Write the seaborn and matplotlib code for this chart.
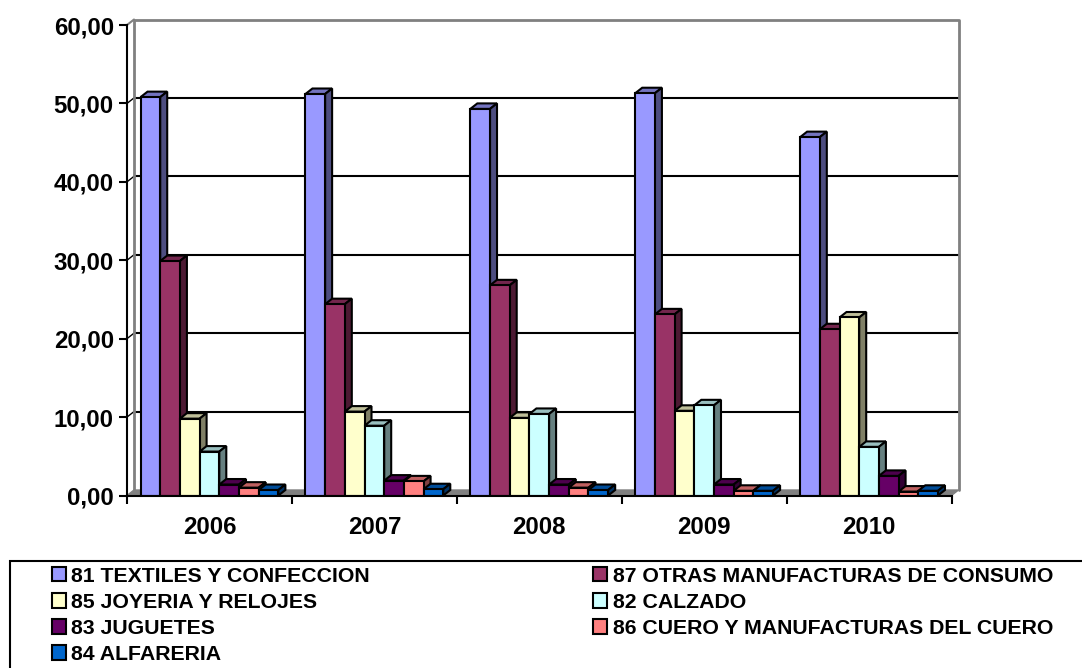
import matplotlib
matplotlib.use("Agg")
import matplotlib.pyplot as plt
from matplotlib.colors import to_rgb
from matplotlib.patches import Polygon, Rectangle
import pandas as pd
import seaborn as sns

sns.set_style("white")
plt.rcParams['font.family'] = ['Liberation Sans', 'DejaVu Sans']
plt.rcParams['font.weight'] = 'bold'
plt.rcParams['text.color'] = 'black'
plt.rcParams['xtick.color'] = 'black'
plt.rcParams['ytick.color'] = 'black'

years = ["2006", "2007", "2008", "2009", "2010"]
textiles = [50.8, 51.2, 49.3, 51.3, 45.7]
otras = [29.9, 24.4, 26.8, 23.1, 21.2]
joyeria = [9.8, 10.7, 9.9, 10.8, 22.7]
calzado = [5.6, 8.9, 10.4, 11.5, 6.2]
juguetes = [1.4, 1.9, 1.4, 1.4, 2.5]
cuero = [1.0, 1.8, 1.0, 0.6, 0.5]
alfareria = [0.7, 0.8, 0.7, 0.6, 0.6]

series = {
    "81 TEXTILES Y CONFECCION": textiles,
    "87 OTRAS MANUFACTURAS DE CONSUMO": otras,
    "85 JOYERIA Y RELOJES": joyeria,
    "82 CALZADO": calzado,
    "83 JUGUETES": juguetes,
    "86 CUERO Y MANUFACTURAS DEL CUERO": cuero,
    "84 ALFARERIA": alfareria,
}
colors = ["#9999FF", "#993366", "#FFFFCC", "#CCFFFF", "#660066", "#FF8080", "#0066CC"]
yticks = [0, 10, 20, 30, 40, 50, 60]

W, H = 1082, 668
rows = []
for name, vals in series.items():
    for y, v in zip(years, vals):
        rows.append({"year": y, "serie": name, "value": v})
df = pd.DataFrame(rows)

fig = plt.figure(figsize=(W / 100, H / 100), dpi=100)
ax = fig.add_axes([127 / W, 1 - 495.5 / H, 824.5 / W, 470.5 / H])
ax.patch.set_alpha(0)

sns.barplot(data=df, x="year", y="value", hue="serie", hue_order=list(series),
            palette=colors, width=0.836, dodge=True, saturation=1, gap=0,
            edgecolor="black", linewidth=1.5, ax=ax)
ax.set_xlim(-0.5, 4.5)
ax.set_ylim(0, 60)

# depth of the fake 3d, in data units
dx = 7 / (824.5 / 5)
dy = 5.5 / (470.5 / 60)
grey = "#808080"


def shade(c, f):
    return tuple(v * f for v in to_rgb(c))


# back walls and floor
ax.hlines([t + dy for t in yticks[:-1] if t > 0], -0.5 + dx, 4.5 + dx, color="black", lw=1.5, zorder=1, clip_on=False)
for t in yticks[1:-1]:
    ax.plot([-0.5, -0.5 + dx], [t, t + dy], color="black", lw=1, zorder=1, clip_on=False)
ax.plot([-0.5 + dx, -0.5 + dx, 4.5 + dx, 4.5 + dx], [dy, 60 + dy, 60 + dy, dy], color=grey, lw=2, zorder=1.2, clip_on=False)
ax.plot([-0.5, -0.5 + dx], [60, 60 + dy], color=grey, lw=1.5, zorder=1.2, clip_on=False)
ax.add_patch(Polygon([(-0.5, 0), (4.5, 0), (4.5 + dx, dy), (-0.5 + dx, dy)], closed=True,
                     facecolor=grey, edgecolor=grey, lw=1, zorder=1.3, clip_on=False))

# top and side faces taken from every bar
bars = []
for container, c in zip(ax.containers, colors):
    for bar in container:
        bars.append((bar, c))
bars.sort(key=lambda item: item[0].get_x())
for i, (bar, c) in enumerate(bars):
    x0, w, h = bar.get_x(), bar.get_width(), bar.get_height()
    z = 3 + i * 0.01
    bar.set_zorder(z + 0.002)
    top = [(x0, h), (x0 + dx, h + dy), (x0 + w + dx, h + dy), (x0 + w, h)]
    side = [(x0 + w, 0), (x0 + w + dx, dy), (x0 + w + dx, h + dy), (x0 + w, h)]
    ax.add_patch(Polygon(top, closed=True, facecolor=shade(c, 0.75), edgecolor="black", lw=1.5, zorder=z, clip_on=False))
    ax.add_patch(Polygon(side, closed=True, facecolor=shade(c, 0.5), edgecolor="black", lw=1.5, zorder=z, clip_on=False))

sns.despine(ax=ax)
for s in ("left", "bottom"):
    ax.spines[s].set_linewidth(1.5)
    ax.spines[s].set_color("black")
    ax.spines[s].set_zorder(5)

ax.set_yticks(yticks)
ax.set_yticklabels([f"{t:.2f}".replace(".", ",") for t in yticks], fontsize=17.3, fontweight="bold")
ax.set_xticks([i - 0.5 for i in range(6)])
ax.set_xticklabels([])
ax.set_xticks(range(5), years, minor=True, fontsize=17.3, fontweight="bold")
ax.tick_params(axis="both", which="major", length=6, width=1.5, color="black", left=True, bottom=True)
ax.tick_params(axis="y", pad=3.5)
ax.tick_params(axis="x", which="minor", length=0, pad=14.5)
ax.set_xlabel("")
ax.set_ylabel("")

# legend box runs off the page on the right and at the bottom
fig.add_artist(Rectangle((10 / W, -10 / H), (W + 20) / W, (H - 561 + 10) / H, transform=fig.transFigure,
                         facecolor="none", edgecolor="black", lw=1.5))
handles, labels = ax.get_legend_handles_labels()
ax.legend_.remove()
order = [0, 2, 4, 6, 1, 3, 5]
fig.legend([handles[i] for i in order], [labels[i] for i in order], ncol=2, loc="upper left",
           bbox_to_anchor=(33 / W, 1 - 547.5 / H), frameon=False,
           handlelength=0.67, handleheight=0.67, handletextpad=0.24, columnspacing=10.5, labelspacing=0.335,
           borderpad=0.4, prop={"weight": "bold", "size": 15.3})

fig.savefig("out.png", dpi=100)
